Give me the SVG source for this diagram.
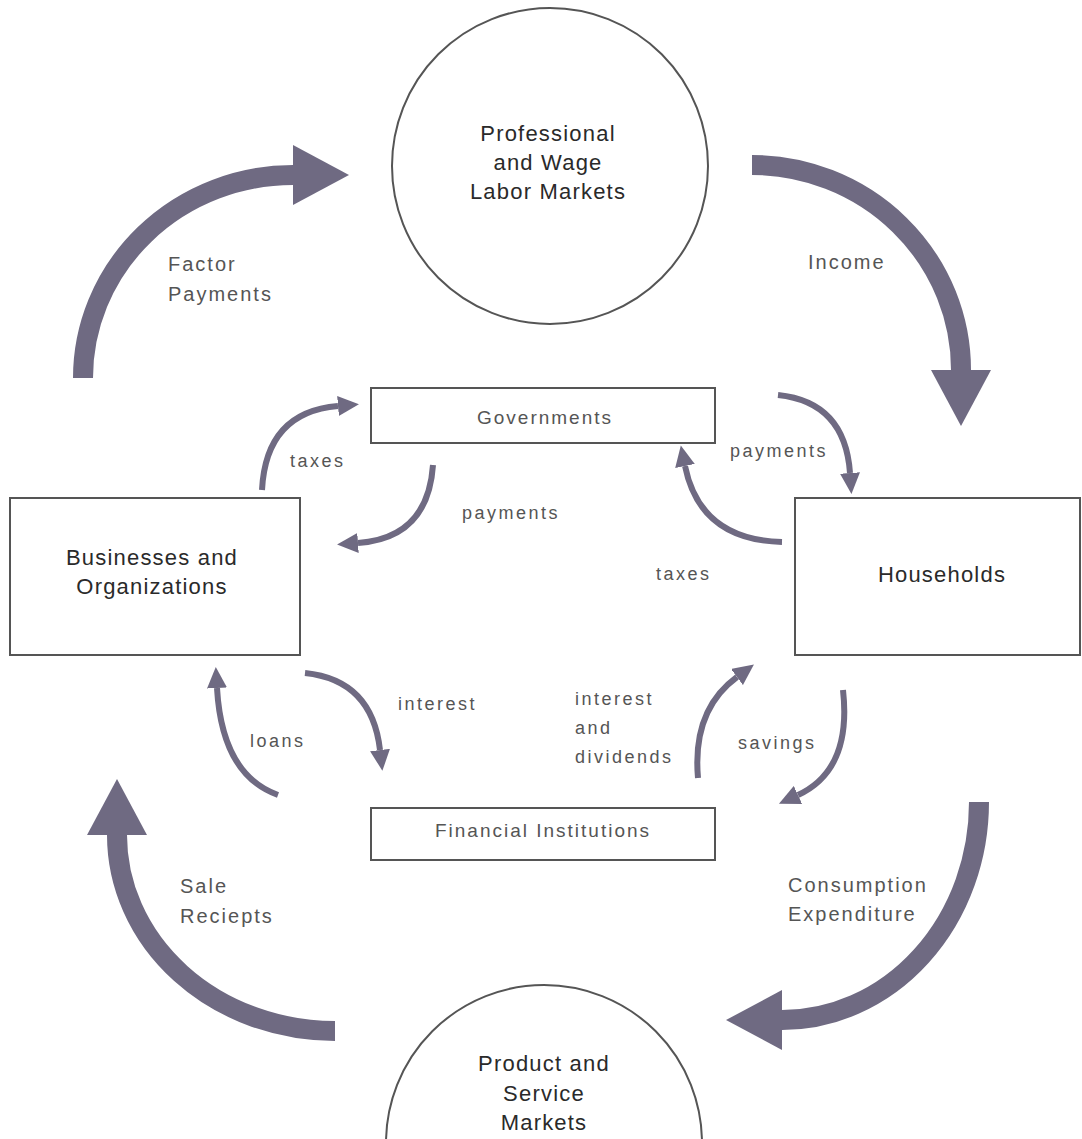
<svg xmlns="http://www.w3.org/2000/svg" width="1082" height="1139" viewBox="0 0 1082 1139">
<style>
.node{fill:#fff;stroke:#555;stroke-width:2}
.main{font-family:"Liberation Sans",Arial,sans-serif;font-size:22px;fill:#2a2a2a;letter-spacing:1.2px;text-anchor:middle}
.box{font-family:"Liberation Sans",Arial,sans-serif;font-size:19px;fill:#555;letter-spacing:2px;text-anchor:middle}
.flow{font-family:"Liberation Sans",Arial,sans-serif;font-size:20px;fill:#555;letter-spacing:2px}
.small{font-family:"Liberation Sans",Arial,sans-serif;font-size:18px;fill:#555;letter-spacing:2.5px}
.big{fill:none;stroke:#6f6a82;stroke-width:20;marker-end:url(#bighead)}
.sm{fill:none;stroke:#6f6a82;stroke-width:6;marker-end:url(#smhead)}
</style>
<defs>
<marker id="bighead" markerUnits="userSpaceOnUse" viewBox="0 -30 56 60" markerWidth="56" markerHeight="60" refX="0" refY="0" orient="auto"><path d="M0,-30 L56,0 L0,30 z" fill="#6f6a82"/></marker>
<marker id="smhead" markerUnits="userSpaceOnUse" viewBox="0 -10 21 20" markerWidth="21" markerHeight="20" refX="0" refY="0" orient="auto"><path d="M0,-10 L21,0 L0,10 z" fill="#6f6a82"/></marker>
</defs>
<rect width="1082" height="1139" fill="#fff"/>
<g id="connectors">
<path class="big" d="M83,378 A210,203 0 0 1 293,175"/>
<path class="big" d="M752,165 A209,205 0 0 1 961,370"/>
<path class="big" d="M979,802 A197,218 0 0 1 782,1020"/>
<path class="big" d="M335,1031 A218,196 0 0 1 117,835"/>
<path class="sm" d="M262,490 Q266,412 338,406"/>
<path class="sm" d="M433,465 Q428,538 358,543"/>
<path class="sm" d="M778,395 Q845,402 850,473"/>
<path class="sm" d="M782,542 Q700,540 685,466"/>
<path class="sm" d="M305,673 Q372,680 380,750"/>
<path class="sm" d="M278,795 Q222,775 217,688"/>
<path class="sm" d="M698,778 Q692,710 737,677"/>
<path class="sm" d="M843,690 Q852,770 798,795"/>
</g>
<g id="labor">
<circle class="node" cx="550" cy="166" r="158"/>
<text class="main" x="548" y="141">Professional</text>
<text class="main" x="548" y="170">and Wage</text>
<text class="main" x="548" y="199">Labor Markets</text>
</g>
<g id="product">
<circle class="node" cx="544" cy="1143" r="158"/>
<text class="main" x="544" y="1071">Product and</text>
<text class="main" x="544" y="1101">Service</text>
<text class="main" x="544" y="1130">Markets</text>
</g>
<g id="governments">
<rect class="node" x="371" y="388" width="344" height="55"/>
<text class="box" x="545" y="424">Governments</text>
</g>
<g id="businesses">
<rect class="node" x="10" y="498" width="290" height="157"/>
<text class="main" x="152" y="565">Businesses and</text>
<text class="main" x="152" y="594">Organizations</text>
</g>
<g id="households">
<rect class="node" x="795" y="498" width="285" height="157"/>
<text class="main" x="942" y="582">Households</text>
</g>
<g id="financial">
<rect class="node" x="371" y="808" width="344" height="52"/>
<text class="box" x="543" y="837">Financial Institutions</text>
</g>
<g id="labels">
<text class="flow" x="168" y="271">Factor</text>
<text class="flow" x="168" y="301">Payments</text>
<text class="flow" x="808" y="269">Income</text>
<text class="flow" x="180" y="893">Sale</text>
<text class="flow" x="180" y="923">Reciepts</text>
<text class="flow" x="788" y="892">Consumption</text>
<text class="flow" x="788" y="921">Expenditure</text>
<text class="small" x="290" y="467">taxes</text>
<text class="small" x="462" y="519">payments</text>
<text class="small" x="730" y="457">payments</text>
<text class="small" x="656" y="580">taxes</text>
<text class="small" x="398" y="710">interest</text>
<text class="small" x="250" y="747">loans</text>
<text class="small" x="575" y="705">interest</text>
<text class="small" x="575" y="734">and</text>
<text class="small" x="575" y="763">dividends</text>
<text class="small" x="738" y="749">savings</text>
</g>
</svg>
